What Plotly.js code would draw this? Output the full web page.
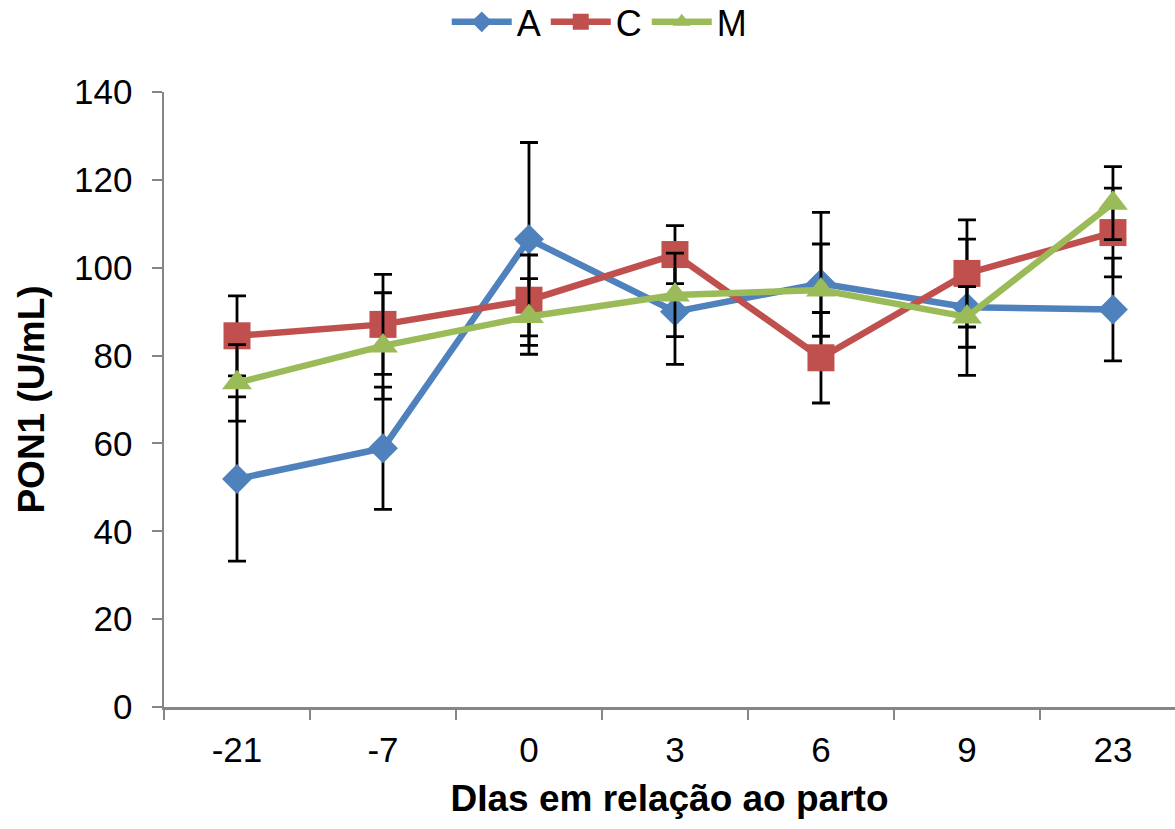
<!DOCTYPE html>
<html>
<head>
<meta charset="utf-8">
<script src="https://cdn.plot.ly/plotly-3.0.1.min.js"></script>
<style>html,body{margin:0;padding:0;background:#fff;}#chart{width:1175px;height:829px;}</style>
</head>
<body>
<div id="chart"></div>
<script>
const categories = ["-21", "-7", "0", "3", "6", "9", "23"];
const valuesA = [51.9, 58.9, 106.5, 90.0, 96.4, 91.0, 90.5];
const errorA  = [18.7, 13.9, 22.0, 12.0, 16.2, 15.5, 11.7];
const valuesC = [84.5, 87.1, 92.6, 103.0, 79.5, 98.7, 108.0];
const errorC  = [9.1, 11.4, 10.3, 6.6, 10.3, 12.2, 10.1];
const valuesM = [73.8, 82.2, 88.9, 93.8, 94.9, 88.8, 114.7];
const errorM  = [8.7, 12.1, 8.6, 9.5, 10.5, 6.9, 8.3];
const yTicks = [0, 20, 40, 60, 80, 100, 120, 140];

function errBar(arr) {
  return {type: "data", array: arr, visible: true, color: "#000000", thickness: 2.8, width: 9};
}

const traces = [
  {name: "A", x: categories, y: valuesA, type: "scatter", mode: "lines+markers",
   line: {color: "#4F81BD", width: 6.5}, marker: {symbol: "diamond", size: 23, color: "#4F81BD"},
   error_y: errBar(errorA)},
  {name: "C", x: categories, y: valuesC, type: "scatter", mode: "lines+markers",
   line: {color: "#C0504D", width: 6.5}, marker: {symbol: "square", size: 27, color: "#C0504D"},
   error_y: errBar(errorC)},
  {name: "M", x: categories, y: valuesM, type: "scatter", mode: "lines+markers",
   line: {color: "#9BBB59", width: 6.5}, marker: {symbol: "triangle-up", size: 26, color: "#9BBB59"},
   error_y: errBar(errorM)}
];

const layout = {
  width: 1175, height: 829,
  margin: {l: 164, r: 0, t: 92, b: 122, autoexpand: false},
  paper_bgcolor: "#ffffff", plot_bgcolor: "#ffffff",
  font: {family: "Liberation Sans, Arial, sans-serif", color: "#000000", size: 35},
  showlegend: true,
  legend: {orientation: "h", x: 0.431, xanchor: "center", y: 1.114, yanchor: "middle",
           font: {size: 36, color: "#000000"}, itemwidth: 60, tracegroupgap: 0, bgcolor: "rgba(0,0,0,0)"},
  xaxis: {
    type: "category", categoryorder: "array", categoryarray: categories,
    range: [-0.5, 6.425], showgrid: false, zeroline: false, automargin: false,
    showline: true, linecolor: "#868686", linewidth: 2.5,
    ticks: "outside", tickson: "boundaries", ticklen: 10, tickwidth: 2, tickcolor: "#868686",
    tickfont: {size: 35, color: "#000000"}, ticklabelstandoff: 10,
    title: {text: "DIas em relação ao parto", font: {size: 37, color: "#000000", weight: "bold"}, standoff: 18}
  },
  yaxis: {
    range: [0, 140], tickvals: yTicks, ticktext: yTicks.map(String),
    showgrid: false, zeroline: false, automargin: false,
    showline: true, linecolor: "#868686", linewidth: 2.5,
    ticks: "outside", ticklen: 10, tickwidth: 2, tickcolor: "#868686",
    tickfont: {size: 35, color: "#000000"}, ticklabelstandoff: 12,
    title: {text: "PON1 (U/mL)", font: {size: 37, color: "#000000", weight: "bold"}, standoff: 18}
  }
};

Plotly.newPlot("chart", traces, layout, {displayModeBar: false, staticPlot: true});
</script>
</body>
</html>
